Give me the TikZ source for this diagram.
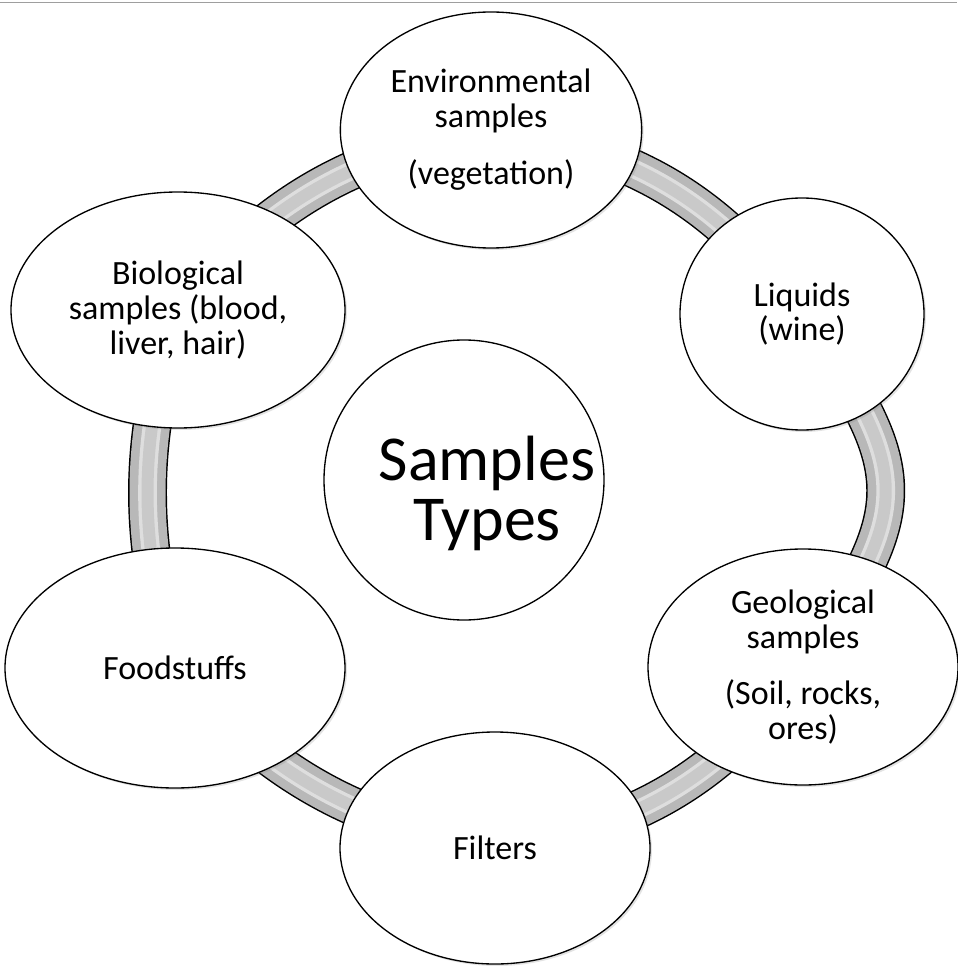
\documentclass[tikz,border=0pt]{standalone}
\usepackage{fontspec}
\setmainfont{Carlito}
\usetikzlibrary{shapes.geometric,shadows,backgrounds}
\definecolor{band_gray}{gray}{0.72}
\definecolor{rule_gray}{gray}{0.62}

\begin{document}
\begin{tikzpicture}[x=0.75pt,y=-0.75pt,
    item/.style={ellipse,draw,line width=1pt,fill=white,inner sep=0pt,align=center,
      font=\fontsize{25.5}{26}\selectfont,
      drop shadow={opacity=0.22,shadow xshift=1.5pt,shadow yshift=-1.5pt}},
    band/.style={draw=black,line width=1.1pt,double=band_gray,double distance=27pt},
    shine/.style={draw=white,line width=2.5pt,double=band_gray,double distance=9pt,opacity=0.55}]
    \useasboundingbox (0,0) rectangle (957,966);
    \draw[rule_gray,line width=1.1pt] (0,2.7)--(957,2.7); %top rule
    %outer items
    \node[item,minimum width=226pt,minimum height=177pt] (env) at (491,130)
        {Environmental\\samples\\[17pt](vegetation)};
    \node[item,minimum width=183pt,minimum height=174pt] (liq) at (802,314)
        {Liquids\\(wine)};
    \node[item,minimum width=232.5pt,minimum height=177pt] (geo) at (803,667)
        {Geological\\samples\\[16pt](Soil, rocks,\\ores)};
    \node[item,minimum width=232.5pt,minimum height=174pt] (fil) at (495,848)
        {Filters};
    \node[item,minimum width=255pt,minimum height=180pt] (food) at (175,668)
        {Foodstuffs};
    \node[item,minimum width=250.5pt,minimum height=177pt] (bio) at (178,310)
        {Biological\\samples (blood,\\liver, hair)};
    %centre
    \node[circle,draw,line width=1pt,fill=white,inner sep=0pt,minimum size=210pt] (main) at (464,480) {};
    \node[align=center,font=\fontsize{48}{45}\selectfont] (title) at (487,493) {Samples\\Types};
    %ring
    \begin{scope}[on background layer]
        \foreach \a/\b/\t/\l in {env/liq/23/1,liq/geo/35/1.4,geo/fil/23/1,
            fil/food/19/1,food/bio/16/1,bio/env/20/1}{
            \draw[band] (\a.center) to[bend left=\t,looseness=\l] (\b.center);
            \draw[shine] (\a.center) to[bend left=\t,looseness=\l] (\b.center);
        }
    \end{scope}
\end{tikzpicture}
\end{document}
